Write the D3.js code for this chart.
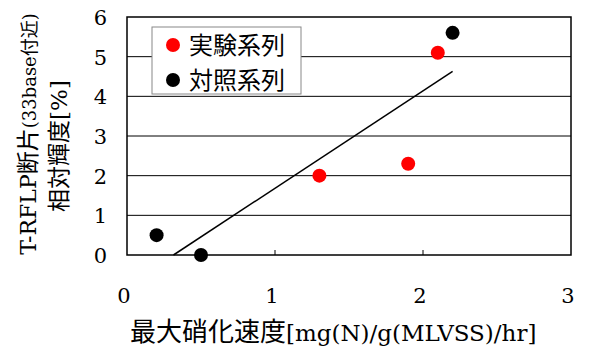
<!DOCTYPE html>
<html>
<head>
<meta charset="utf-8">
<script src="https://cdnjs.cloudflare.com/ajax/libs/d3/7.8.5/d3.min.js"></script>
<style>
  body { margin: 0; background: #fff; }
  text { font-family: "DejaVu Serif", "Noto Sans CJK JP", serif; }
  .cjk { font-family: "Noto Sans CJK JP", sans-serif; }
</style>
</head>
<body>
<script>
// data
var seriesNames = ["実験系列", "対照系列"];
var seriesColors = ["#ff0000", "#000000"];
var expX = [1.3, 1.9, 2.1];
var expY = [2.0, 2.3, 5.1];
var ctrlX = [0.2, 0.5, 2.2];
var ctrlY = [0.5, 0.0, 5.6];
var xTicks = [0, 1, 2, 3];
var yTicks = [0, 1, 2, 3, 4, 5, 6];

var W = 591, H = 349;
var m = { left: 127, right: 20, top: 17, bottom: 94 };

var svg = d3.select("body").append("svg")
    .attr("width", W).attr("height", H);

var x = d3.scaleLinear().domain([0, 3]).range([m.left, W - m.right]);
var y = d3.scaleLinear().domain([0, 6]).range([H - m.bottom, m.top]);

// gridlines
svg.append("g").selectAll("line").data(yTicks.slice(1, -1)).enter().append("line")
    .attr("x1", x(0)).attr("x2", x(3))
    .attr("y1", function(d) { return y(d); }).attr("y2", function(d) { return y(d); })
    .attr("stroke", "#000").attr("stroke-width", 1);

// frame
svg.append("rect")
    .attr("x", x(0)).attr("y", y(6))
    .attr("width", x(3) - x(0)).attr("height", y(0) - y(6))
    .attr("fill", "none").attr("stroke", "#000").attr("stroke-width", 1.5);

// x ticks (inside)
svg.append("g").selectAll("line").data(xTicks.slice(1, -1)).enter().append("line")
    .attr("x1", function(d) { return x(d); }).attr("x2", function(d) { return x(d); })
    .attr("y1", y(0)).attr("y2", y(0) - 5)
    .attr("stroke", "#000");

// tick labels
svg.append("g").selectAll("text").data(xTicks).enter().append("text")
    .attr("x", function(d) { return x(d) - 3; })
    .attr("y", y(0) + 48)
    .attr("text-anchor", "middle")
    .attr("font-size", 21)
    .text(function(d) { return d; });

svg.append("g").selectAll("text").data(yTicks).enter().append("text")
    .attr("x", x(0) - 20)
    .attr("y", function(d) { return y(d) + 8; })
    .attr("text-anchor", "end")
    .attr("font-size", 21)
    .text(function(d) { return d; });

// trendline (least squares over all points, clipped at y=0)
var allX = expX.concat(ctrlX), allY = expY.concat(ctrlY);
var mx = d3.mean(allX), my = d3.mean(allY);
var sxy = d3.sum(allX, function(d, i) { return (d - mx) * (allY[i] - my); });
var sxx = d3.sum(allX, function(d) { return (d - mx) * (d - mx); });
var slope = sxy / sxx, icpt = my - slope * mx;
var x0 = Math.max(d3.min(allX), -icpt / slope), x1 = d3.max(allX);
svg.append("line")
    .attr("x1", x(x0)).attr("y1", y(slope * x0 + icpt))
    .attr("x2", x(x1)).attr("y2", y(slope * x1 + icpt))
    .attr("stroke", "#000").attr("stroke-width", 1.5);

// points
function drawPts(xs, ys, col) {
  svg.append("g").selectAll("circle").data(xs).enter().append("circle")
      .attr("cx", function(d) { return x(d); })
      .attr("cy", function(d, i) { return y(ys[i]); })
      .attr("r", 7)
      .attr("fill", col);
}
drawPts(expX, expY, seriesColors[0]);
drawPts(ctrlX, ctrlY, seriesColors[1]);

// legend
var lg = svg.append("g").attr("transform", "translate(152,27)");
lg.append("rect").attr("width", 149).attr("height", 67)
    .attr("fill", "#fff").attr("stroke", "#888").attr("stroke-width", 1);
seriesNames.forEach(function(s, i) {
  lg.append("circle").attr("cx", 21).attr("cy", 18 + i * 35).attr("r", 7).attr("fill", seriesColors[i]);
  lg.append("text").attr("class", "cjk").attr("x", 37).attr("y", 27 + i * 35)
      .attr("font-size", 24)
      .text(s);
});

// axis titles
var xt = svg.append("text")
    .attr("x", 130).attr("y", 341)
    .attr("font-size", 23);
xt.append("tspan").attr("class", "cjk").attr("font-size", 26).text("最大硝化速度");
xt.append("tspan").text("[mg(N)/g(MLVSS)/hr]");

var yt = svg.append("text")
    .attr("transform", "translate(36,134) rotate(-90)")
    .attr("text-anchor", "middle").attr("font-size", 22);
yt.append("tspan").text("T-RFLP");
yt.append("tspan").attr("class", "cjk").attr("font-size", 23).text("断片");
yt.append("tspan").attr("font-size", 18).text("(33base");
yt.append("tspan").attr("class", "cjk").attr("font-size", 18).text("付近");
yt.append("tspan").attr("font-size", 18).text(")");

var yt2 = svg.append("text")
    .attr("transform", "translate(67,146) rotate(-90)")
    .attr("text-anchor", "middle").attr("font-size", 23);
yt2.append("tspan").attr("class", "cjk").text("相対輝度");
yt2.append("tspan").text("[%]");
</script>
</body>
</html>
